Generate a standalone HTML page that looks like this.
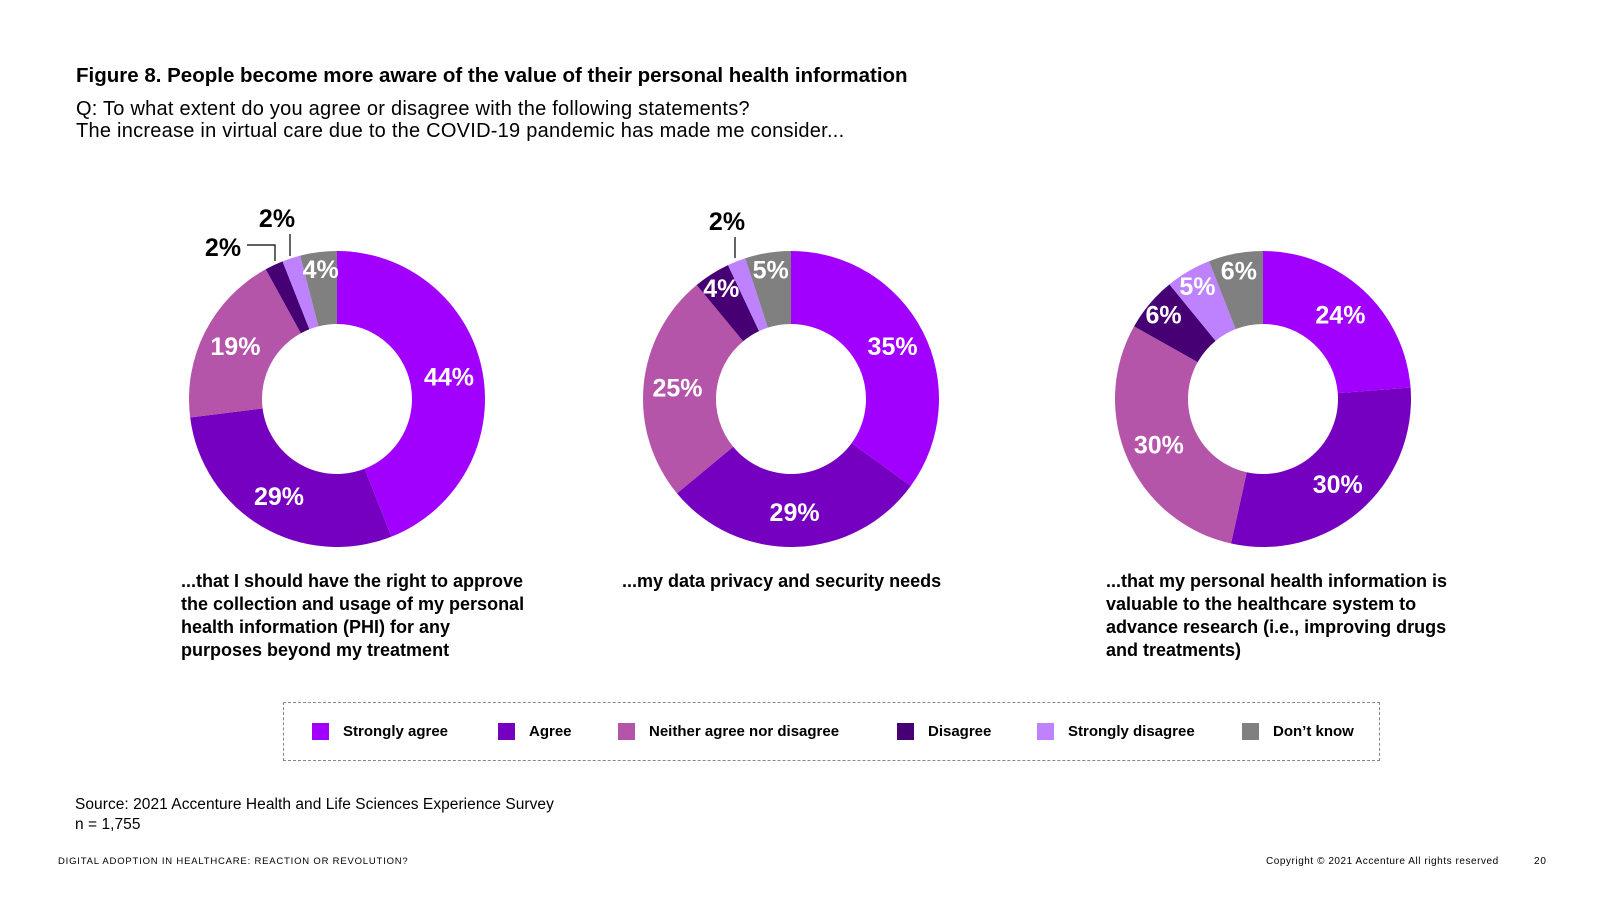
<!DOCTYPE html>
<html><head><meta charset="utf-8">
<style>
body{margin:0;width:1600px;height:900px;background:#fff;font-family:"Liberation Sans",sans-serif;color:#000;position:relative;overflow:hidden}
.abs{position:absolute}
.title{left:76px;top:64px;font-size:20.5px;font-weight:bold}
.sub{left:76px;top:98px;font-size:20px;line-height:22px;letter-spacing:0.25px}
.cap{top:570px;font-size:18px;font-weight:bold;line-height:23px}
.legend{left:283px;top:702px;width:1097px;height:59px;border:1px dashed #888;box-sizing:border-box;font-size:15px;font-weight:bold}
.li{position:absolute;top:20px;display:flex;align-items:center;white-space:nowrap}
.sw{width:17px;height:17px;margin-right:14px;flex-shrink:0}
.src{left:75px;top:795px;font-size:15.5px;line-height:20px;letter-spacing:0.05px}
.foot{top:856px;font-size:9.5px;letter-spacing:0.8px}
</style></head><body>
<div class="abs title">Figure 8. People become more aware of the value of their personal health information</div>
<div class="abs sub">Q: To what extent do you agree or disagree with the following statements?<br>The increase in virtual care due to the COVID-19 pandemic has made me consider...</div>
<svg id="chart" class="abs" style="left:0;top:0" width="1600" height="560"></svg>
<div class="abs cap" style="left:181px">...that I should have the right to approve<br>the collection and usage of my personal<br>health information (PHI) for any<br>purposes beyond my treatment</div>
<div class="abs cap" style="left:622px">...my data privacy and security needs</div>
<div class="abs cap" style="left:1106px">...that my personal health information is<br>valuable to the healthcare system to<br>advance research (i.e., improving drugs<br>and treatments)</div>
<div class="abs legend">
<div class="li" style="left:28px"><div class="sw" style="background:#A100FF"></div>Strongly agree</div>
<div class="li" style="left:214px"><div class="sw" style="background:#7500C0"></div>Agree</div>
<div class="li" style="left:334px"><div class="sw" style="background:#B455AA"></div>Neither agree nor disagree</div>
<div class="li" style="left:613px"><div class="sw" style="background:#460073"></div>Disagree</div>
<div class="li" style="left:753px"><div class="sw" style="background:#BE82FF"></div>Strongly disagree</div>
<div class="li" style="left:958px"><div class="sw" style="background:#808080"></div>Don’t know</div>
</div>
<div class="abs src">Source: 2021 Accenture Health and Life Sciences Experience Survey<br>n = 1,755</div>
<div class="abs foot" style="left:58px">DIGITAL ADOPTION IN HEALTHCARE: REACTION OR REVOLUTION?</div>
<div class="abs foot" style="left:1266px;letter-spacing:0.55px;font-size:10px">Copyright © 2021 Accenture All rights reserved</div>
<div class="abs foot" style="left:1534px;font-size:10px">20</div>
<script>
const categories=["Strongly agree","Agree","Neither agree nor disagree","Disagree","Strongly disagree","Don't know"];
const chart1Values=[44,29,19,2,2,4];
const chart2Values=[35,29,25,4,2,5];
const chart3Values=[24,30,30,6,5,6];
const colors=["#A100FF","#7500C0","#B455AA","#460073","#BE82FF","#808080"];
const svg=document.getElementById('chart');
const NS="http://www.w3.org/2000/svg";
const R=148,r=75;
function pt(cx,cy,rad,a){return [cx+rad*Math.sin(a),cy-rad*Math.cos(a)];}
function mk(tag,attrs){const e=document.createElementNS(NS,tag);for(const k in attrs)e.setAttribute(k,attrs[k]);svg.appendChild(e);return e;}
function label(x,y,t,fill){const e=mk('text',{x:x,y:y,'text-anchor':'middle','dominant-baseline':'central','font-size':25,'font-weight':'bold',fill:fill,'font-family':'Liberation Sans, sans-serif'});e.textContent=t;return e;}
function donut(cx,cy,vals,idx,outside){
  const tot=vals.reduce((a,b)=>a+b,0);let a0=0;
  vals.forEach((v,i)=>{
    const a1=a0+v/tot*2*Math.PI;
    const [x0,y0]=pt(cx,cy,R,a0),[x1,y1]=pt(cx,cy,R,a1),[x2,y2]=pt(cx,cy,r,a1),[x3,y3]=pt(cx,cy,r,a0);
    const lg=(a1-a0)>Math.PI?1:0;
    const p=mk('path',{d:`M${x0},${y0}A${R},${R} 0 ${lg} 1 ${x1},${y1}L${x2},${y2}A${r},${r} 0 ${lg} 0 ${x3},${y3}Z`,fill:colors[i]});
    
    
    if(!outside.includes(i)){
      const LR=(v/tot<=0.065)?130:114;
      const [lx,ly]=pt(cx,cy,LR,(a0+a1)/2);
      const t=label(lx,ly,v+'%','#fff');
      
      
    }
    a0=a1;
  });
}
donut(337,399,chart1Values,1,[3,4]);
donut(791,399,chart2Values,2,[4]);
donut(1263,399,chart3Values,3,[]);
function callout(x,y,t,pts,name){
  const e=label(x,y,t,'#000');
  
  
  const l=mk('polyline',{points:pts,fill:'none',stroke:'#000','stroke-width':1.2});
  
  
}
callout(223,248,chart1Values[3]+'%','247,245 275,245 275,261','callout-chart1-disagree');
callout(277,219,chart1Values[4]+'%','290,234 290,256','callout-chart1-strongly-disagree');
callout(727,222,chart2Values[4]+'%','735,237 735,258','callout-chart2-strongly-disagree');
</script>
</body></html>
